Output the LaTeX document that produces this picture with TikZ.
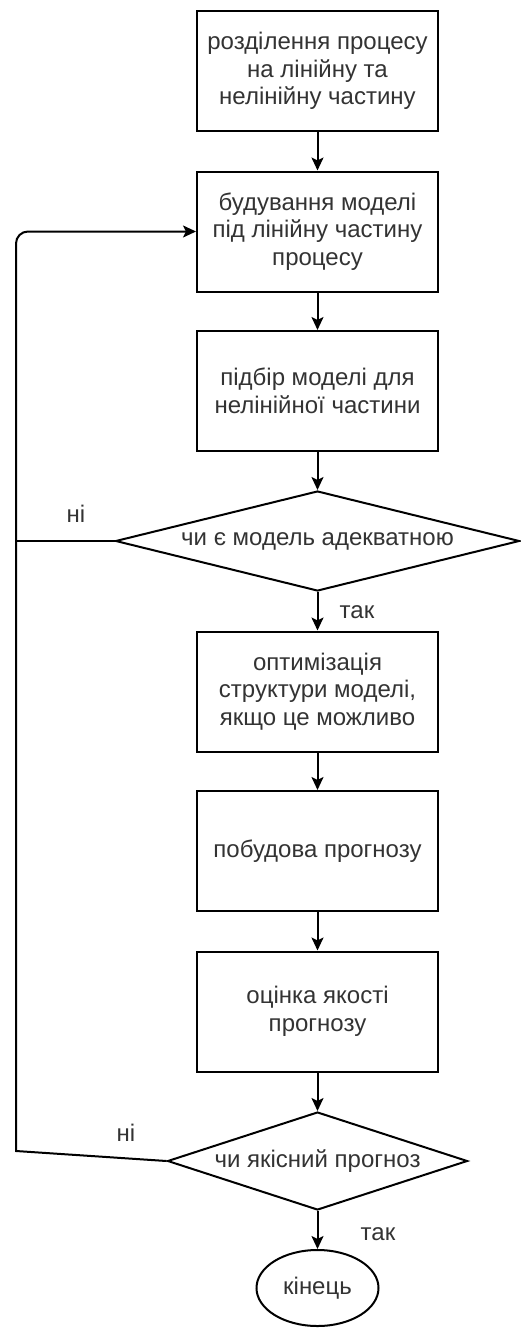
\documentclass[tikz,border=0pt]{standalone}
\usepackage{fontspec}
\setmainfont{Liberation Sans}
\usetikzlibrary{arrows.meta,shapes.geometric}
\begin{document}
\begin{tikzpicture}[x=1pt,y=-1pt,
  every node/.style={font=\fontsize{24}{27.5}\selectfont, text=black!80},
  stepbox/.style={draw=black, line width=2pt, minimum width=241pt, minimum height=120pt, inner sep=0pt, align=center},
  decision/.style={draw=black, line width=2pt, diamond, inner sep=0pt},
  terminal/.style={draw=black, line width=2pt, ellipse, minimum width=122pt, minimum height=76pt, inner sep=0pt},
  flow/.style={draw=black, line width=2pt, -{Stealth[length=13pt,width=12pt,inset=3pt]}},
  plain/.style={draw=black, line width=2pt},
  lbl/.style={inner sep=0pt}
]
\useasboundingbox (0,0) rectangle (520,1328);
\fill[white] (0,0) rectangle (520,1328);

\node[stepbox] (b1) at (317.5,71) {розділення процесу\\на лінійну та\\нелінійну частину};
\node[stepbox] (b2) at (317.5,231.5) {будування моделі\\під лінійну частину\\процесу};
\node[stepbox] (b3) at (317.5,391) {підбір моделі для\\нелінійної частини};
\node[decision, minimum width=404pt, minimum height=100pt] (d1) at (317.5,541) {};
\node at (d1) {чи є модель адекватною};
\node[stepbox] (b4) at (317.5,691.5) {оптимізація\\структури моделі,\\якщо це можливо};
\node[stepbox] (b5) at (317.5,851) {побудова прогнозу};
\node[stepbox] (b6) at (317.5,1011.5) {оцінка якості\\прогнозу};
\node[decision, minimum width=300pt, minimum height=98pt] (d2) at (317.5,1161) {};
\node at (d2) {чи якісний прогноз};
\node[terminal] (e) at (317.5,1288) {кінець};

\draw[flow] (b1) -- (b2);
\draw[flow] (b2) -- (b3);
\draw[flow] (b3) -- (d1);
\draw[flow] (d1) -- (b4);
\draw[flow] (b4) -- (b5);
\draw[flow] (b5) -- (b6);
\draw[flow] (b6) -- (d2);
\draw[flow] (d2) -- (e);

\coordinate (c1) at (16,541);
\coordinate (c2) at (16,1151);
\coordinate (c4) at (16,400);
\coordinate (c3) at (16,231.5);
\draw[plain] (d1.west) -- (c1);
\draw[plain] (d2.west) -- (c2) -- (c4);
\draw[flow, rounded corners=12pt] (c4) -- (c3) -- (b2.west);

\node[lbl] (n1) at (76,514) {ні};
\node[lbl] (n2) at (126,1133) {ні};
\node[lbl] (t1) at (357,612) {так};
\node[lbl] (t2) at (378,1234) {так};
\end{tikzpicture}
\end{document}
